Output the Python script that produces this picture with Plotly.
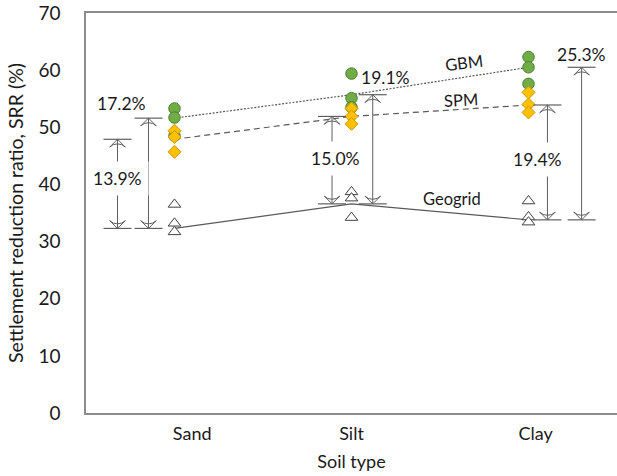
import plotly.graph_objects as go

# ---- data ----
categories = ["Sand", "Silt", "Clay"]
gbm_pts = [[53.3, 51.7, 48.5], [59.4, 55.1, 53.5], [62.3, 60.5, 57.6]]
spm_pts = [[49.4, 48.3, 45.7], [53.3, 51.9, 50.6], [56.1, 54.0, 52.6]]
geo_pts = [[36.5, 33.2, 31.7], [38.7, 37.6, 34.2], [37.1, 34.3, 33.4]]
gbm_line = [51.6, 55.7, 60.5]
spm_line = [47.9, 51.9, 53.9]
geo_line = [32.3, 36.6, 33.8]
gap_labels = ["13.9%", "17.2%", "15.0%", "19.1%", "19.4%", "25.3%"]

# ---- styling / placement ----
TXT = "#1a1a1a"
AX = "#8c8c8c"
ARR = "#5f5f5f"
FONT = "Lato"
pos = [i + 1 for i in range(len(categories))]

fig = go.Figure()

def scatter_group(pts, symbol, size, fill, edge, name):
    xs, ys = [], []
    for p, vals in zip(pos, pts):
        for v in vals:
            xs.append(p)
            ys.append(v)
    fig.add_trace(go.Scatter(x=xs, y=ys, mode="markers", name=name,
                             marker=dict(symbol=symbol, size=size, color=fill,
                                         line=dict(color=edge, width=1))))

# mean lines
fig.add_trace(go.Scatter(x=pos, y=geo_line, mode="lines",
                         line=dict(color="#595959", width=1.2)))
fig.add_trace(go.Scatter(x=pos, y=spm_line, mode="lines",
                         line=dict(color="#595959", width=1.2, dash="6px,4px")))
fig.add_trace(go.Scatter(x=pos, y=gbm_line, mode="lines",
                         line=dict(color="#595959", width=1.2, dash="2px,1.5px")))

scatter_group(geo_pts, "triangle-up", 11, "white", "#404040", "Geogrid")
scatter_group(gbm_pts, "circle", 11.5, "#70AD47", "#4E7F2F", "GBM")
scatter_group(spm_pts, "diamond", 10, "#FFC000", "#C8960A", "SPM")

def dim_arrow(xc, y0, y1):
    fig.add_trace(go.Scatter(x=[xc, xc], y=[y0, y1], mode="lines+markers",
                             line=dict(color=ARR, width=1),
                             marker=dict(symbol="arrow-wide-open", size=11, angle=[180, 0],
                                         color=ARR, line=dict(color=ARR, width=1))))
    fig.add_trace(go.Scatter(x=[xc, xc], y=[y0, y1], mode="markers",
                             marker=dict(symbol="line-ew", size=20,
                                         line=dict(color=ARR, width=1.2))))

arrows = [
    (pos[0] - 0.322, geo_line[0], spm_line[0]),
    (pos[0] - 0.147, geo_line[0], gbm_line[0]),
    (pos[1] - 0.11, geo_line[1], spm_line[1]),
    (pos[1] + 0.12, geo_line[1], gbm_line[1]),
    (pos[2] + 0.107, geo_line[2], spm_line[2]),
    (pos[2] + 0.30, geo_line[2], gbm_line[2]),
]
for a in arrows:
    dim_arrow(*a)

label_xy = [
    (pos[0] - 0.322, 41.0, True),
    (pos[0] - 0.30, 54.1, False),
    (pos[1] - 0.09, 44.6, True),
    (pos[1] + 0.19, 58.8, False),
    (pos[2] + 0.05, 44.3, True),
    (pos[2] + 0.297, 62.8, False),
]
for txt, (lx, ly, bg) in zip(gap_labels, label_xy):
    fig.add_annotation(x=lx, y=ly, text=txt, showarrow=False,
                       font=dict(family=FONT, size=17.5, color=TXT),
                       bgcolor="white" if bg else "rgba(0,0,0,0)", borderpad=6 if bg else 0)

# series labels
for txt, lx, ly, ang in [("GBM", 2.638, 61.3, -7), ("SPM", 2.62, 54.8, -3), ("Geogrid", 2.57, 37.45, 0)]:
    fig.add_annotation(x=lx, y=ly, text=txt, showarrow=False, textangle=ang,
                       font=dict(family=FONT, size=16.5, color=TXT))

fig.update_layout(
    width=617, height=476,
    margin=dict(l=86, r=0, t=13, b=63),
    paper_bgcolor="white", plot_bgcolor="white",
    showlegend=False,
    font=dict(family=FONT, color=TXT),
    xaxis=dict(range=[0.5, 3.5], showgrid=False, zeroline=False,
               showline=True, linecolor=AX, linewidth=1.5, mirror=True,
               tickvals=[pos[0] + 0.1, pos[1], pos[2] + 0.04], ticktext=categories,
               ticks="", ticklabelstandoff=4, tickfont=dict(family=FONT, size=18, color=TXT),
               title=dict(text="Soil type", font=dict(family=FONT, size=18, color=TXT), standoff=12)),
    yaxis=dict(range=[0, 70], dtick=10, showgrid=False, zeroline=False,
               showline=True, linecolor=AX, linewidth=1.5, ticks="",
               ticklabelstandoff=20,
               tickfont=dict(family=FONT, size=19, color=TXT),
               title=dict(text="Settlement reduction ratio, SRR (%)",
                          font=dict(family=FONT, size=19.5, color=TXT), standoff=10)),
)

fig.write_html("out.html")
